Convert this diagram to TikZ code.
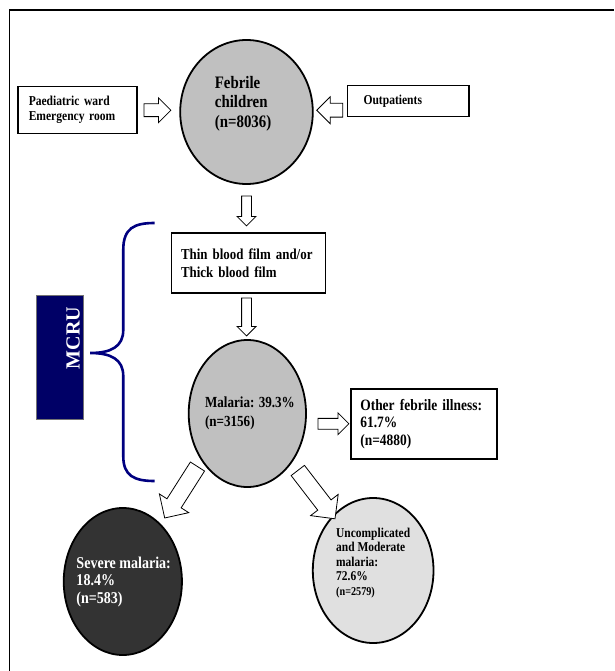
\documentclass[tikz,border=0pt]{standalone}
\usepackage{fontspec}
\setmainfont{Liberation Serif}[FakeStretch=0.85]
\newfontfamily\wideserif{Liberation Serif}
\usepackage{tikz}
\usetikzlibrary{positioning, shapes.geometric, shapes.arrows, calc}
\definecolor{mcNavy}{RGB}{0, 0, 102}
\definecolor{mcBrace}{RGB}{0, 0, 128}
\definecolor{mcGray}{RGB}{192, 192, 192}
\definecolor{mcDark}{RGB}{51, 51, 51}
\definecolor{mcLight}{RGB}{224, 224, 224}
\tikzset{
    base/.style={
        font=\bfseries,
        align=left
    },
    panel/.style={
        base,
        rectangle,
        draw=black,
        line width=1.5pt,
        fill=white,
        anchor=north west,
        inner ysep=0pt
    },
    bubble/.style={
        ellipse,
        draw=black,
        line width=1.8pt,
        inner sep=0pt
    },
    caption/.style={
        base,
        inner sep=0pt
    },
    blockarrow/.style={
        single arrow,
        draw=black,
        fill=white,
        line width=0.8pt,
        inner xsep=0pt,
        sloped,
        allow upside down
    },
    brace/.style={
        draw=mcBrace,
        line width=2.6pt
    }
}

\begin{document}
\begin{tikzpicture}[x=0.85pt, y=-1pt]
  \useasboundingbox (0,0) rectangle (722.4,671);

  % Frame
  \draw[line width=1.5pt] (11,671) -- (11,10) -- (722.4,10);

  % Sources
  \node[panel, minimum width=119pt, minimum height=47pt, inner xsep=11pt, text width=97pt,
        font=\bfseries\fontsize{13.6}{15}\selectfont] (paed) at (20,86) {Paediatric~ward\\Emergency~room};
  \node[panel, minimum width=121.6pt, minimum height=31pt, inner xsep=16pt, text width=89.6pt,
        font=\bfseries\fontsize{13.6}{15}\selectfont] (out) at (408,85) {Outpatients};

  % Febrile children
  \node[bubble, fill=mcGray, minimum width=132.6pt, minimum height=144pt] (febrile) at (290,112) {};
  \node[caption, font=\bfseries\fontsize{17.5}{19.3}\selectfont] (febriletext) at (286,103.5) {Febrile\\children\\(n=8036)};

  % Blood film
  \node[panel, minimum width=154pt, minimum height=60pt, inner xsep=9.4pt, text width=135.2pt,
        font=\bfseries\fontsize{15.2}{18}\selectfont] (film) at (201,232) {Thin~blood~film~and/or\\Thick~blood~film};

  % Malaria
  \node[bubble, fill=mcGray, minimum width=117.3pt, minimum height=147pt] (malaria) at (291,413.5) {};
  \node[caption, font=\bfseries\fontsize{15.4}{19.3}\selectfont] (malariatext) at (294,413) {Malaria: 39.3\%\\(n=3156)};

  \node[panel, minimum width=146.2pt, minimum height=70pt, inner xsep=9.4pt, text width=127.4pt,
        font=\bfseries\fontsize{15.8}{17.5}\selectfont] (other) at (412,388) {Other~febrile~illness:\\61.7\%\\(n=4880)};

  % Outcomes
  \node[bubble, fill=mcDark, minimum width=118.2pt, minimum height=147pt] (severe) at (144.5,581.5) {};
  \node[caption, text=white, font=\bfseries\fontsize{16.5}{17.5}\selectfont] (severetext) at (145.5,581.6) {Severe malaria:\\18.4\%\\(n=583)};

  \node[bubble, fill=mcLight, minimum width=120.7pt, minimum height=145pt] (unc) at (439,570.5) {};
  \node[caption, font=\bfseries\fontsize{13.5}{14.5}\selectfont] (unctext) at (439,563) {Uncomplicated\\and Moderate\\malaria:\\72.6\%\\{\fontsize{12}{14.5}\selectfont(n=2579)}};

  % MCRU
  \node[rectangle, fill=mcNavy, draw=black!55, line width=0.8pt, minimum width=46.8pt, minimum height=124pt,
        anchor=north west] (mcru) at (42,295) {};
  \node[caption, rotate=90, text=white, font=\wideserif\bfseries\fontsize{20}{20}\selectfont] (mcrutext) at (86,338) {MCRU};
  \draw[brace] (182,223) .. controls (158,223) and (145,228) .. (145,250) -- (145,330)
    .. controls (145,347) and (130,353) .. (106,353)
    .. controls (130,353) and (145,359) .. (145,376) -- (145,456)
    .. controls (145,476) and (158,481) .. (182,481);

  % Block arrows
  \path (paed.east) -- (paed.east -| febrile.west)
    node[blockarrow, pos=.4, minimum height=27pt, inner ysep=6pt, single arrow head extend=6pt] (a1) {};
  \path (out.west |- paed.east) -- (febrile.east |- paed.east)
    node[blockarrow, pos=.41, minimum height=26pt, inner ysep=6.5pt, single arrow head extend=6.5pt] (a2) {};
  \path (febrile.south) -- (febrile.south |- film.north)
    node[blockarrow, midway, minimum height=30pt, inner ysep=4.5pt, single arrow head extend=4.5pt] (a3) {};
  \path (febrile.south |- film.south) -- (febrile.south |- malaria.north)
    node[blockarrow, pos=.46, minimum height=38pt, inner ysep=4.5pt, single arrow head extend=4.5pt] (a4) {};
  \path (malaria.east |- other.west) -- (other.west)
    node[blockarrow, pos=.55, minimum height=31pt, inner ysep=5pt, single arrow head extend=5.5pt] (a5) {};
  \path ([xshift=-7.5pt]malaria.south west) -- ([xshift=-7.5pt]severe.north east)
    node[blockarrow, pos=.36, minimum height=61pt, inner ysep=8pt, single arrow head extend=9pt] (a6) {};
  \path ([xshift=5pt]malaria.south east) -- ([xshift=5pt]unc.north west)
    node[blockarrow, pos=.48, minimum height=61pt, inner ysep=8pt, single arrow head extend=9pt] (a7) {};
\end{tikzpicture}
\end{document}
